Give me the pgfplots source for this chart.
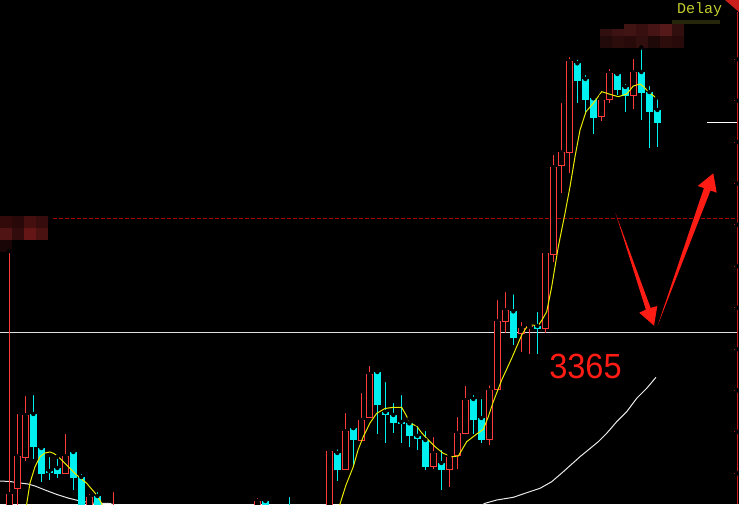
\documentclass[border=0pt]{standalone}
\usepackage{fontspec}
\usepackage{pgfplots}
\usepackage{pgfplotstable}
\pgfplotsset{compat=1.18}
\newfontfamily\monofont{Liberation Mono}
\newfontfamily\sansfont{Liberation Sans}

\definecolor{upred}{RGB}{255,59,59}
\definecolor{dncyan}{RGB}{0,240,240}
\definecolor{ma5}{RGB}{235,235,0}
\definecolor{ma60}{RGB}{235,235,235}
\definecolor{arrowred}{RGB}{255,28,20}
\definecolor{dashred}{RGB}{175,0,0}
\definecolor{edgered}{RGB}{205,30,30}
\definecolor{delayc}{RGB}{195,205,45}

% k, wick top, wick bottom, body top, body bottom (pixel rows)
\pgfplotstableread{
k   hi     lo     top    bot
0   251    510    494.3  510
1   412    510    456.3  489.3
2   394    460.7  415.3  457.7
7   432    473.7  456.3  473.7
10  492    510    497.3  510
13  490    510    515    520
31  496    510    501    510
40  450    510    451.3  510
42  411    469.7  431.3  469.7
44  391    440.7  420    440.7
45  364    417.7  374.3  417.7
53  435    469.3  453.3  466.7
55  454    486.7  457    469.7
56  415    468.7  433.3  456.3
57  384    433.7  400.3  433.7
60  383.3  445.3  390.3  440.3
61  298    390.3  321.3  390.3
62  290    333.3  310.3  322.3
64  320    351.7  328.3  334.3
65  324.3  353.7  325.7  327.3
67  252    333.3  253.3  329.3
68  153    261.7  167.3  254.7
69  101    192.7  152.3  166.3
70  55     173.3  61.3   153.3
74  96.3   120.7  100.3  117.3
75  67     102.5  73.3   100.3
78  57     108.7  72.3   95.5
}\redc

\pgfplotstableread{
k   hi     lo     top    bot
3   393    458.7  414    446.7
4   446    482    448    473.7
5   455    480    471    472.7
6   456.7  477.7  468    473.7
8   448    490    452    477.7
9   472    510    477    510
11  490    510    496    510
32  500    510    501    510
35  495    510    515    520
41  447.3  481    453    470
43  428    466.7  428    440
46  370.7  434    372    405
47  380    443    412    414.7
48  401    433    415    422.7
49  393    443    422    423.7
50  418.7  446.7  423.3  435.7
51  424    450.3  436    438.7
52  429    469.7  440    466.7
54  448    489.7  463    469.7
58  393    434    399    419.7
59  397    442.7  418    439.7
63  292.3  344.7  311.3  337.7
66  310    353.7  326    328.7
71  57.7   102.7  63.3   80.7
72  73     112    79     99.7
73  97.3   133.7  98.3   117.7
76  70     95     74     89.7
77  82     112    87     95.5
79  47.5   119.5  72     92.7
80  84     147.7  92     111.7
81  97.3   146.7  110    122.7
}\cyanc

\newcommand{\mos}[7]{%
  \addplot[draw=none, fill={rgb,255:red,#5;green,#6;blue,#7}, forget plot]
    coordinates {(#1,#3) (#2,#3) (#2,#4) (#1,#4)} -- cycle;}

\begin{document}
\begin{tikzpicture}
\begin{axis}[
  scale only axis, width=739pt, height=504pt,
  xmin=0, xmax=739, ymin=0, ymax=504, y dir=reverse,
  axis line style={draw=none}, ticks=none,
  axis background/.style={fill=black},
  candle/.style={only marks, mark=none, forget plot,
    error bars/.cd, y dir=plus, y explicit, error mark=none},
]
% horizontal reference lines
\addplot[ma60!95!black, line width=1pt, forget plot] coordinates {(0,332.3) (737,332.3)};
\addplot[dashred, line width=1pt, dash pattern=on 4pt off 2pt, forget plot] coordinates {(53,218.3) (737,218.3)};
\addplot[white, line width=1pt, forget plot] coordinates {(707,122.3) (737,122.3)};

% moving averages
\addplot[ma60, line width=1pt, forget plot] coordinates {
(0,481) (10,481.5) (15,482.3) (28,484) (35,486) (45,490) (57,494.5)
(68,498) (80,501) (95,503.3) (110,503.5) (120,507)};
\addplot[ma60, line width=1pt, forget plot] coordinates {
(480,506) (485,503.3) (496.7,500) (513.3,497.3) (526.7,492.7) (540,488.3)
(551.7,481.7) (563.3,471.7) (580,456.7) (598.3,441.7) (606.7,433.3)
(616.7,421.7) (626.7,411.7) (636.7,398.3) (646.7,388.3) (656,377.3)};

% wicks
\addplot[candle, error bar style={upred, line width=1pt}]
  table[x expr=9.33+8*\thisrow{k}, y=hi, y error plus expr=\thisrow{lo}-\thisrow{hi}] {\redc};
\addplot[candle, error bar style={dncyan, line width=1pt}]
  table[x expr=9.33+8*\thisrow{k}, y=hi, y error plus expr=\thisrow{lo}-\thisrow{hi}] {\cyanc};
% bodies
\addplot[candle, error bar style={dncyan, line width=6.7pt}]
  table[x expr=9.33+8*\thisrow{k}, y=top, y error plus expr={max(\thisrow{bot}-\thisrow{top},1)}] {\cyanc};
\addplot[candle, error bar style={upred, line width=6.7pt}]
  table[x expr=9.33+8*\thisrow{k}, y=top, y error plus expr={max(\thisrow{bot}-\thisrow{top},1)}] {\redc};
\addplot[candle, error bar style={black, line width=4.7pt}]
  table[x expr=9.33+8*\thisrow{k}, y expr=\thisrow{top}+1, y error plus expr={max(\thisrow{bot}-\thisrow{top}-2,0)}] {\redc};

\addplot[ma5, line width=1pt, forget plot] coordinates {
(24,515) (26.7,504) (30,483) (35,466.7) (40,456.7) (45,453) (50,452)
(54,453.5) (58.3,456.7) (66.7,465) (76.7,475) (86.7,483.3) (96.7,495)
(101.7,503.3) (104,512)};
\addplot[ma5, line width=1pt, forget plot] coordinates {
(337,515) (340,504) (346,485) (353.3,466.7) (358,450) (363.3,436.7)
(370,423) (376.7,413.3) (385,408.5) (393.3,407.3) (401.7,407.3) (406,415)
(410,423.3) (416.7,426) (421,432) (426.7,438.3) (435,446.7) (443.3,453.3)
(451.7,456.7) (458.3,456) (463,448) (466.7,441.7) (476.7,434) (483.3,429.3)
(488.3,416.7) (493.3,401.7) (501.7,380) (511.7,358.3) (521.7,335) (526,328)
(530,325) (538.3,325.5) (542,320) (546.7,311.7) (551.7,286.7) (558.3,246.7)
(565,213.3) (570,186.7) (575,156.7) (580,130) (586,111.7) (593.3,103.3)
(601.7,91.7) (606,93) (610,94.3) (618.3,96.7) (626.7,94) (633.3,86)
(640,84) (644,87) (648.3,91.7) (656.7,98.3)};

% pixelated labels
\mos{0}{12}{216}{228}{50}{10}{10}
\mos{12}{24}{216}{228}{40}{8}{8}
\mos{24}{36}{216}{228}{70}{15}{15}
\mos{36}{48}{216}{228}{55}{12}{12}
\mos{0}{12}{228}{240}{80}{20}{20}
\mos{12}{24}{228}{240}{50}{12}{12}
\mos{24}{36}{228}{240}{100}{22}{22}
\mos{36}{48}{228}{240}{75}{18}{18}
\mos{0}{12}{240}{252}{25}{5}{5}
\mos{600}{612}{29}{36}{50}{15}{15}
\mos{612}{624}{29}{36}{60}{18}{18}
\mos{624}{636}{24}{36}{65}{20}{20}
\mos{636}{648}{24}{36}{55}{15}{15}
\mos{648}{660}{24}{36}{70}{20}{20}
\mos{660}{672}{24}{36}{85}{25}{25}
\mos{672}{684}{24}{36}{50}{15}{15}
\mos{600}{612}{36}{48}{35}{10}{10}
\mos{612}{624}{36}{48}{45}{12}{12}
\mos{624}{636}{36}{48}{40}{10}{10}
\mos{636}{648}{36}{48}{50}{15}{15}
\mos{648}{660}{36}{48}{30}{8}{8}
\mos{660}{672}{36}{48}{45}{12}{12}
\mos{672}{684}{36}{48}{40}{10}{10}
\mos{672}{720}{20}{24}{38}{38}{10}

% right edge
\addplot[edgered, line width=1pt, forget plot] coordinates {(737,12) (737,504)};
\addplot[only marks, mark=none, forget plot, error bars/.cd, x dir=minus, x fixed=3,
  error mark=none, error bar style={edgered, line width=1pt}] coordinates {
(737,59.3) (737,100.7) (737,142.1) (737,183.5) (737,224.9) (737,266.3)
(737,307.7) (737,349.1) (737,390.5) (737,431.9) (737,473.3)};
\addplot[draw=none, fill=edgered, forget plot] coordinates {(725,0) (739,0) (739,12)} -- cycle;

% arrows
\addplot[draw=none, fill=arrowred, forget plot] coordinates {
(615.5,213) (650.6,307.9) (657.3,306) (654,325.7) (639.3,312.7) (645.8,309.5)} -- cycle;
\addplot[draw=none, fill=arrowred, forget plot] coordinates {
(657.5,326) (710.5,190.5) (716.7,192.7) (713.3,173.3) (697.7,186) (703.9,188.1)} -- cycle;

\node[text=delayc, font=\monofont\fontsize{15}{15}\selectfont, inner sep=0pt] at (axis cs:699.5,10) {Delay};
\node[text=arrowred, font=\sansfont\fontsize{35}{35}\selectfont, inner sep=0pt, xscale=0.93] at (axis cs:585.5,366) {3365};
\end{axis}
\end{tikzpicture}
\end{document}
